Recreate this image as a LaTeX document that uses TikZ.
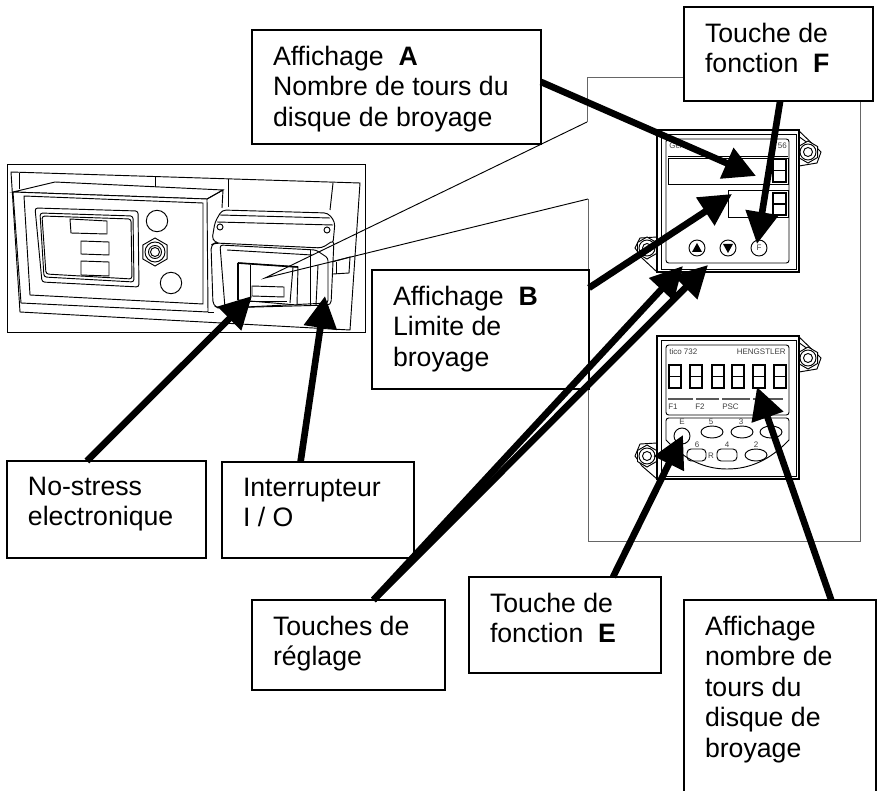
\documentclass[tikz,border=0pt]{standalone}
\usepackage{fontspec}
\usepackage{tikz}
\usetikzlibrary{arrows.meta}
\setmainfont{Liberation Sans}
\tikzset{
  callout/.style={draw,fill=white,rectangle,inner sep=0pt,outer sep=0pt,line width=0.9pt,anchor=north west},
  pointer/.style={line width=5pt,-{Triangle[length=24pt,width=24pt]}},
  fine/.style={line width=0.7pt},
  panelline/.style={line width=0.7pt,color=black!60},
  tiny label/.style={inner sep=0pt,font=\fontsize{6}{7}\selectfont,color=black!75}
}
% text block of a callout: width, height, lines
\newcommand{\calltext}[3]{\parbox[c][\dimexpr#2pt*3/4\relax][t]{\dimexpr#1pt*3/4\relax}{\fontsize{20}{22.9}\selectfont\leftskip=15.75pt\rightskip=0pt plus 1fil\parindent=0pt\vspace*{12pt}#3}}
\newcommand{\nutbolt}[3]{\draw[fine,fill=white] (#1,#2) +(30:#3) -- +(90:#3) -- +(150:#3) -- +(210:#3) -- +(270:#3) -- +(330:#3) -- cycle;}
\newcommand{\digitcell}[4]{\draw[line width=0.9pt] (#1,#2) rectangle (#3,#4);\draw[line width=0.9pt] (#1,{(#2+#4)/2}) -- (#3,{(#2+#4)/2});}
\begin{document}
\begin{tikzpicture}[x=0.75pt,y=-0.75pt]
\useasboundingbox (0,0) rectangle (877,791);

%left photo
\draw[fine] (7,164) rectangle (365,332);
\draw[fine] (11,172) -- (360,183) -- (350,330) -- (20,312) -- cycle;
\draw[fine] (19,173) -- (19,189);\draw[fine] (155,177) -- (155,187);
\draw[fine] (228,179) -- (228,207);\draw[fine] (333,183) -- (330,210);
\draw[fine,fill=white] (13,192) -- (55,182) -- (223,190) -- (207,199) -- cycle;
\draw[fine,fill=white] (13,192) -- (207,199) -- (208,312) -- (21,303) -- cycle;
\draw[fine] (207,199) -- (223,190) -- (222,208);\draw[fine] (208,312) -- (214,312);
\draw[fine] (24,196) -- (203,203) -- (203,304) -- (30,295) -- cycle;
\draw[fine,rounded corners=2pt] (35,208) -- (138,211) -- (139,287) -- (42,282) -- cycle;
\draw[fine,rounded corners=2pt] (40,213) -- (133,216) -- (134,282) -- (44,277) -- cycle;
\draw[fine,rounded corners=2pt] (42,216) -- (131,219) -- (132,279) -- (46,274) -- cycle;
\draw[fine] (70,219) -- (107,221) -- (107,234) -- (71,233) -- cycle;
\draw[fine] (81,241) -- (109,242) -- (109,255) -- (81,254) -- cycle;
\draw[fine] (81,261) -- (109,262) -- (109,276) -- (81,275) -- cycle;
\draw[fine] (157,221) circle[radius=10.7];\draw[fine] (171,283) circle[radius=10.7];
\nutbolt{155}{252}{14}
\draw[fine] (155,252) circle[radius=10];\draw[fine] (155,252) circle[radius=6.5];\draw[fine] (155,252) circle[radius=4.5];

%switch housing
\draw[fine,fill=white,rounded corners=3pt] (215,222) -- (222,210) -- (328,213) -- (335,222) -- (333,244) -- (322,248) -- (222,245) -- (212,240) -- cycle;
\draw[fine] (220,215) -- (330,218);\draw[fine] (217,222) -- (333,225);
\draw[fine] (220,227) circle[radius=3];\draw[fine] (327,230) circle[radius=3];
\draw[fine,fill=white,rounded corners=3pt] (211,245) -- (215,243) -- (322,248) -- (334,240) -- (331,305) -- (218,308) -- (213,305) -- cycle;
\draw[fine,rounded corners=2pt] (220,245) -- (316,250) -- (328,258) -- (328,303) -- (225,308) -- cycle;
\draw[fine] (227,250) -- (312,255);
\draw[fine] (310,250) -- (310,305);\draw[fine] (318,265) -- (316,305);
\draw[fine,fill=white] (238,263) -- (298,267) -- (297,305) -- (238,300) -- cycle;
\draw[line width=1.2pt] (238,263) -- (298,267);\draw[line width=1.2pt] (238,263) -- (238,300);
\draw[fine] (250,265) -- (250,300);\draw[fine] (293,267) -- (290,303);\draw[fine] (250,301) -- (287,301);
\draw[fine] (252,286) -- (284,287) -- (284,297) -- (252,296) -- cycle;
\draw[fine] (332,262) -- (350,257) -- (349,273) -- (333,274);\draw[fine] (336,262) -- (336,274);

%panel behind the two units
\draw[panelline] (587,122) -- (587,77) -- (684,77);
\draw[panelline] (860,101) -- (860,541) -- (588,541) -- (588,199);
\draw[fine] (587,122) -- (265,278) -- (588,199);

%upper unit
\draw[fine,fill=white] (798,130) -- (821,152) -- (817,163) -- (799,166) -- cycle;
\draw[fine] (798,136) -- (812,146);\nutbolt{808}{152}{11}\draw[fine] (808,152) circle[radius=8];\draw[fine] (808,152) circle[radius=4.5];
\draw[fine,fill=white] (657,237) -- (640,238) -- (635,248) -- (642,258) -- (657,272) -- cycle;
\nutbolt{647}{248}{11}\draw[fine] (647,248) circle[radius=8];\draw[fine] (647,248) circle[radius=4.5];
\draw[line width=0.9pt,fill=white] (657,130) rectangle (799,272);
\draw[fine] (661,134) rectangle (796,269);
\draw[fine,rounded corners=2pt] (666,139) rectangle (789,263);
\node[tiny label,anchor=west] (genlabel) at (669,146) {Gen};
\node[tiny label,anchor=east] (numlabel) at (787,146) {56};
\draw[fine] (668,158) rectangle (788,184);\draw[fine] (668,156) -- (788,156);
\draw[line width=1.2pt] (773,159) rectangle (786,182);\draw[line width=1.2pt] (773,170.5) -- (786,170.5);
\draw[fine] (728,190) rectangle (788,217);
\draw[line width=1.2pt] (773,193) rectangle (786,215);\draw[line width=1.2pt] (773,204) -- (786,204);
\foreach \bx in {697,728,759} {\draw[fine] (\bx,248) circle[radius=8];}
\fill (692,252) -- (702,252) -- (697,243) -- cycle;
\fill (723,244) -- (733,244) -- (728,253) -- cycle;
\node[tiny label] (fkey) at (759,248) {F};

%lower unit
\draw[fine,fill=white] (798,336) -- (821,358) -- (817,369) -- (799,372) -- cycle;
\draw[fine] (798,342) -- (812,352);\nutbolt{808}{358}{11}\draw[fine] (808,358) circle[radius=8];\draw[fine] (808,358) circle[radius=4.5];
\draw[fine,fill=white] (657,443) -- (640,444) -- (635,456) -- (642,466) -- (657,479) -- cycle;
\nutbolt{647}{456}{11}\draw[fine] (647,456) circle[radius=8];\draw[fine] (647,456) circle[radius=4.5];
\draw[line width=0.9pt,fill=white] (657,336) rectangle (799,479);
\draw[fine] (661,340) rectangle (796,476);
\draw[fine,rounded corners=2pt] (666,345) rectangle (789,415);
\draw[fine,rounded corners=2pt] (666,440) -- (666,418) -- (789,418) -- (789,440);
\draw[fine] (666,440) .. controls (685,460) and (705,469) .. (727,469) .. controls (750,469) and (770,460) .. (789,440);
\node[tiny label,anchor=west] (ticolabel) at (669,352) {tico 732};
\node[tiny label,anchor=east] (henglabel) at (786,352) {HENGSTLER};
\foreach \dx in {669,690,712,732,753,774} {\digitcell{\dx}{365}{\dx+12}{388}}
\foreach \ba/\bb in {668/693,696/719,722/750,753/783} {\draw[line width=1.5pt,color=black!65] (\ba,399) -- (\bb,399);}
\node[tiny label,anchor=west] (fonelabel) at (668,407) {F1};
\node[tiny label,anchor=west] (ftwolabel) at (695,407) {F2};
\node[tiny label,anchor=west] (psclabel) at (722,407) {PSC};
\draw[fine] (682,436) circle[radius=8];
\node[tiny label] (ekey) at (682,422) {E};
\node[tiny label] (keyfive) at (711,422) {5};
\node[tiny label] (keythree) at (741,422) {3};
\node[tiny label] (keysix) at (697,445) {6};
\node[tiny label] (keyfour) at (727,445) {4};
\node[tiny label] (keytwo) at (756,445) {2};
\node[tiny label] (keyr) at (711,456) {R};
\foreach \ox in {712,742,771} {\draw[fine] (\ox,432) ellipse[x radius=11,y radius=6];}
\draw[fine,rounded corners=3pt] (687,449) -- (706,449) -- (706,461) -- (687,461) -- cycle;
\draw[fine,rounded corners=3pt] (717,449) -- (737,449) -- (737,461) -- (717,461) -- cycle;
\draw[fine] (756,455) ellipse[x radius=11,y radius=6];

%callouts
\node[callout] (affA) at (252,30) {\calltext{289}{114}{Affichage\ \ \textbf{A}\\Nombre de tours du\\disque de broyage}};
\node[callout] (toucheF) at (684,7) {\calltext{189}{94}{Touche de\\fonction\ \ \textbf{F}}};
\node[callout] (affB) at (372,270) {\calltext{217}{119}{Affichage\ \ \textbf{B}\\Limite de\\broyage}};
\node[callout] (nostress) at (7,461) {\calltext{199}{97}{No-stress\\electronique}};
\node[callout] (interrupteur) at (222,462) {\calltext{192}{96}{Interrupteur\\I / O}};
\node[callout] (reglage) at (252,600) {\calltext{193}{90}{Touches de\\réglage}};
\node[callout] (toucheE) at (469,577) {\calltext{192}{96}{Touche de\\fonction\ \ \textbf{E}}};
\node[callout] (affnombre) at (684,600) {\calltext{192}{210}{Affichage\\nombre de\\tours du\\disque de\\broyage}};

%arrow tips
\coordinate (tipA) at (756,176);
\coordinate (tipF) at (757,244);
\coordinate (tipB) at (732,194);
\coordinate (tipNS) at (252,296);
\coordinate (tipIO) at (325,296);
\coordinate (tipUp) at (683,266);
\coordinate (tipDown) at (708,265);
\coordinate (tipE) at (683,435);
\coordinate (tipN) at (757,387);

\draw[pointer] (affA.2) -- (tipA);
\draw[pointer] (toucheF.272) -- (tipF);
\draw[pointer] (affB.21) -- (tipB);
\draw[pointer] (nostress.112) -- (tipNS);
\draw[pointer] (interrupteur.110) -- (tipIO);
\draw[pointer] (reglage.61) -- (tipUp);
\draw[pointer] (reglage.61) -- (tipDown);
\draw[pointer] (toucheE.45) -- (tipE);
\draw[pointer] (affnombre.64) -- (tipN);
\end{tikzpicture}
\end{document}
